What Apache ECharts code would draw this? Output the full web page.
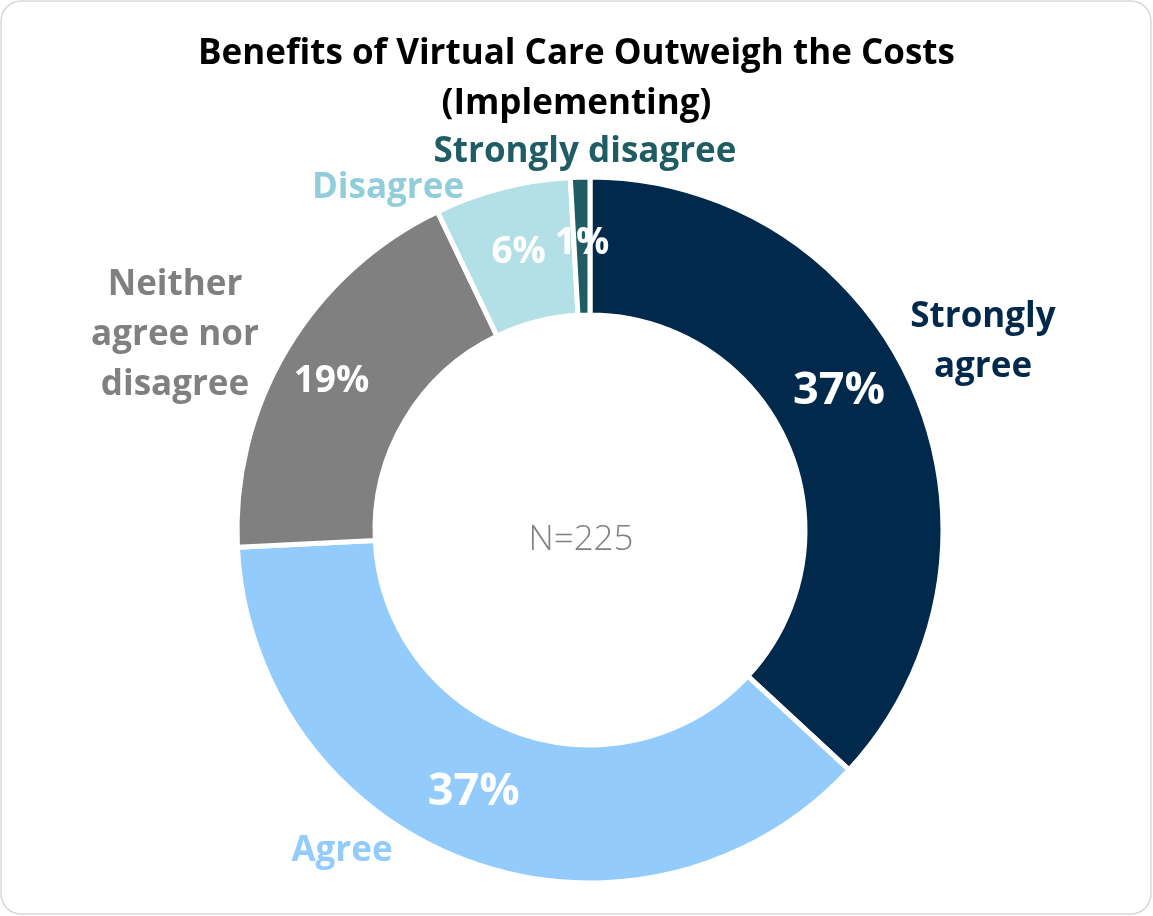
<!DOCTYPE html>
<html>
<head>
<meta charset="utf-8">
<script src="https://cdn.jsdelivr.net/npm/echarts@6/dist/echarts.min.js"></script>
<style>
  html, body { margin: 0; padding: 0; background: #fff; }
  #chart { width: 1153px; height: 916px; }
</style>
</head>
<body>
<div id="chart"></div>
<script>
// responses (counts out of N)
const categories = ['Strongly agree', 'Agree', 'Neither agree nor disagree', 'Disagree', 'Strongly disagree'];
const nameLabels = ['Strongly\nagree', 'Agree', 'Neither\nagree nor\ndisagree', 'Disagree', 'Strongly disagree'];
const counts = [83, 84, 42, 14, 2];
const sampleSize = 225;
const titleText = 'Benefits of Virtual Care Outweigh the Costs\n(Implementing)';

const sliceColors = ['#00294B', '#92CBFC', '#808080', '#B3E0E6', '#1F5C63'];
const nameColors = ['#00294B', '#92CBFC', '#808080', '#92CDDC', '#1F5C63'];
const pctSizes = [45, 45, 37, 37, 37];
// where the category names sit
const namePos = [[983, 342], [342, 851], [175, 335], [388, 188], [585, 152]];

const FONT = '"Open Sans", "Noto Sans", sans-serif';
const chart = echarts.init(document.getElementById('chart'));

const total = counts.reduce((a, b) => a + b, 0);
const pieData = categories.map((c, i) => ({
  name: c,
  value: counts[i],
  itemStyle: { color: sliceColors[i] },
  label: { fontSize: pctSizes[i] }
}));
const nameData = categories.map((c, i) => ({
  name: c,
  value: counts[i],
  label: { color: nameColors[i], formatter: nameLabels[i] }
}));

chart.setOption({
  animation: false,
  title: {
    text: titleText,
    left: 'center',
    top: 24,
    textStyle: { fontFamily: FONT, fontSize: 35, fontWeight: 'bold', color: '#000', lineHeight: 50 }
  },
  graphic: [{
    type: 'rect',
    shape: { x: 1, y: 1, width: 1150, height: 913, r: 20 },
    style: { fill: null, stroke: '#D9D9D9', lineWidth: 1.5 },
    silent: true
  }, {
    type: 'text',
    x: 581,
    y: 540,
    style: {
      text: 'N=' + sampleSize, fontFamily: FONT, fontSize: 35, fontWeight: 300, fill: '#808080',
      align: 'center', verticalAlign: 'middle'
    },
    z: 10
  }],
  series: [{
    type: 'pie',
    center: [590, 530],
    radius: [215, 353],
    startAngle: 90,
    clockwise: true,
    data: pieData,
    itemStyle: { borderColor: '#fff', borderWidth: 5 },
    label: {
      position: 'inside',
      formatter: p => Math.round(p.value / total * 100) + '%',
      fontFamily: FONT,
      fontWeight: 'bold',
      color: '#fff'
    },
    labelLine: { show: false },
    labelLayout: function (params) {
      // nudge the big ones a bit toward where the original has them
      if (params.dataIndex === 0) return { dx: -14, dy: -24 };
      if (params.dataIndex === 1) return { dx: -18, dy: -8 };
      if (params.dataIndex === 2) return { dx: -12, dy: -2 };
      return {};
    },
    silent: true,
    z: 2
  }, {
    type: 'pie',
    center: [590, 530],
    radius: [215, 353],
    startAngle: 90,
    clockwise: true,
    data: nameData,
    itemStyle: { color: 'rgba(0,0,0,0)', borderWidth: 0 },
    label: {
      show: true,
      position: 'outside',
      fontFamily: FONT,
      fontWeight: 'bold',
      fontSize: 35,
      lineHeight: 50,
      align: 'center'
    },
    labelLine: { show: false },
    labelLayout: function (params) {
      const p = namePos[params.dataIndex];
      return { x: p[0], y: p[1], align: 'center', verticalAlign: 'middle', hideOverlap: false };
    },
    silent: true,
    z: 3
  }]
});
</script>
</body>
</html>
